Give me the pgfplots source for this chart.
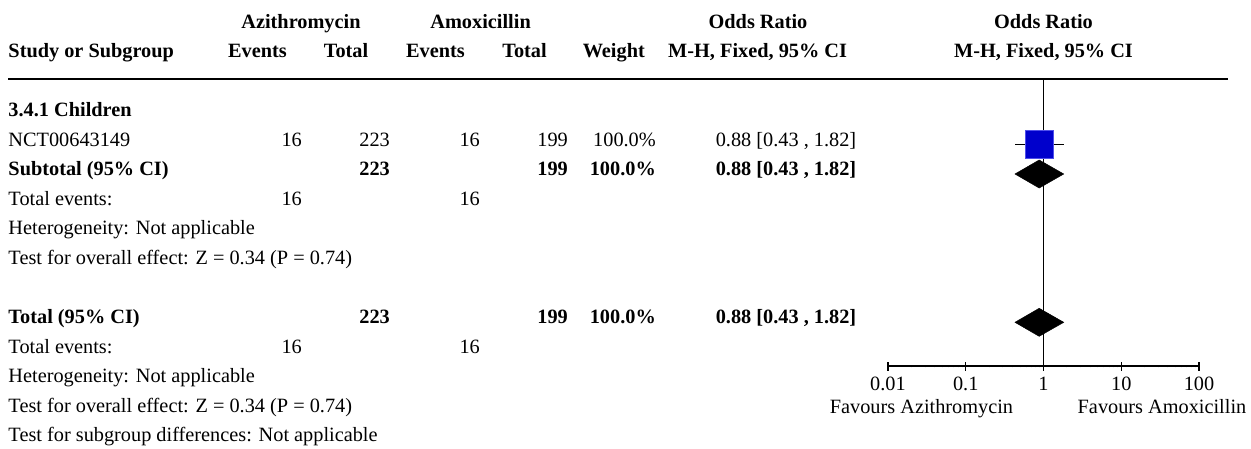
\documentclass[border=0pt]{standalone}
\usepackage{fontspec}
\setmainfont{Liberation Serif}
\usepackage{pgfplots}
\pgfplotsset{compat=1.18}
\definecolor{sqfill}{RGB}{0,0,204}
\definecolor{sqdraw}{RGB}{80,80,235}
\newcommand{\fs}{\fontsize{20.3pt}{24pt}\selectfont}
\begin{document}
\begin{tikzpicture}[x=1pt,y=1pt,every node/.style={font=\fs,inner sep=0pt}]
\path[use as bounding box] (0,0) rectangle (1251,-448);
% header
\node[anchor=base] at (301,-28.4) {\textbf{Azithromycin}};
\node[anchor=base] at (480.6,-28.4) {\textbf{Amoxicillin}};
\node[anchor=base] at (758,-28.4) {\textbf{Odds Ratio}};
\node[anchor=base] at (1043.5,-28.4) {\textbf{Odds Ratio}};
\node[anchor=base west] at (8.3,-57.4) {\textbf{Study or Subgroup}};
\node[anchor=base] at (257.5,-57.4) {\textbf{Events}};
\node[anchor=base] at (346,-57.4) {\textbf{Total}};
\node[anchor=base] at (435.5,-57.4) {\textbf{Events}};
\node[anchor=base] at (524.5,-57.4) {\textbf{Total}};
\node[anchor=base east] at (645,-57.4) {\textbf{Weight}};
\node[anchor=base] at (757.6,-57.4) {\textbf{M-H, Fixed, 95\% CI}};
\node[anchor=base] at (1043.5,-57.4) {\textbf{M-H, Fixed, 95\% CI}};
\draw[line width=1.6pt] (8,-79) -- (1228,-79);
% body
\node[anchor=base west] at (8.3,-116.7) {\textbf{3.4.1 Children}};
\node[anchor=base west] at (8.3,-146.25) {NCT00643149};
\node[anchor=base east] at (302,-146.25) {16};
\node[anchor=base east] at (390,-146.25) {223};
\node[anchor=base east] at (480,-146.25) {16};
\node[anchor=base east] at (568,-146.25) {199};
\node[anchor=base east] at (656,-146.25) {100.0\%};
\node[anchor=base] at (786,-146.25) {0.88 [0.43 , 1.82]};
\node[anchor=base west] at (8.3,-175.8) {\textbf{Subtotal (95\% CI)}};
\node[anchor=base east] at (390,-175.8) {\textbf{223}};
\node[anchor=base east] at (568,-175.8) {\textbf{199}};
\node[anchor=base east] at (656,-175.8) {\textbf{100.0\%}};
\node[anchor=base] at (786,-175.8) {\textbf{0.88 [0.43 , 1.82]}};
\node[anchor=base west] at (8.3,-205.35) {Total events:};
\node[anchor=base east] at (302,-205.35) {16};
\node[anchor=base east] at (480,-205.35) {16};
\node[anchor=base west] at (8.3,-234.9) {Heterogeneity: Not applicable};
\node[anchor=base west] at (8.3,-264.45) {Test for overall effect: Z = 0.34 (P = 0.74)};
\node[anchor=base west] at (8.3,-323.55) {\textbf{Total (95\% CI)}};
\node[anchor=base east] at (390,-323.55) {\textbf{223}};
\node[anchor=base east] at (568,-323.55) {\textbf{199}};
\node[anchor=base east] at (656,-323.55) {\textbf{100.0\%}};
\node[anchor=base] at (786,-323.55) {\textbf{0.88 [0.43 , 1.82]}};
\node[anchor=base west] at (8.3,-353.1) {Total events:};
\node[anchor=base east] at (302,-353.1) {16};
\node[anchor=base east] at (480,-353.1) {16};
\node[anchor=base west] at (8.3,-382.65) {Heterogeneity: Not applicable};
\node[anchor=base west] at (8.3,-412.2) {Test for overall effect: Z = 0.34 (P = 0.74)};
\node[anchor=base west] at (8.3,-441.75) {Test for subgroup differences: Not applicable};
\node[anchor=base] at (921.5,-413) {Favours Azithromycin};
\node[anchor=base] at (1162,-413) {Favours Amoxicillin};
% forest plot
\begin{axis}[
  at={(888pt,-366pt)}, anchor=south west,
  scale only axis, width=311pt, height=287pt,
  xmode=log, xmin=0.01, xmax=100, ymin=-366, ymax=-79,
  axis x line*=bottom, axis y line=none,
  axis line style={line width=1.4pt},
  xtick={0.01,0.1,1,10,100},
  xticklabels={0.01,0.1,1,10,100},
  minor xtick={},
  major tick length=9pt, tick align=center,
  tick style={line width=1.2pt,black},
  xticklabel style={font=\fs, anchor=base, inner sep=0pt, yshift=-19.5pt},
  clip=false,
]
\addplot[black, line width=1.4pt] coordinates {(0.43,-144.4) (1.82,-144.4)};
\addplot[only marks, mark=square*, mark size=13.8pt,
  mark options={fill=sqfill, draw=sqdraw, line width=0.8pt}] coordinates {(0.88,-144.4)};
\addplot[fill=black, draw=black, line width=0.5pt] coordinates {(0.43,-174) (0.88,-160) (1.82,-174) (0.88,-188)} -- cycle;
\addplot[fill=black, draw=black, line width=0.5pt] coordinates {(0.43,-322.3) (0.88,-308.3) (1.82,-322.3) (0.88,-336.3)} -- cycle;
\addplot[black, line width=1.4pt] coordinates {(1,-366) (1,-79)};
\end{axis}
\end{tikzpicture}
\end{document}
